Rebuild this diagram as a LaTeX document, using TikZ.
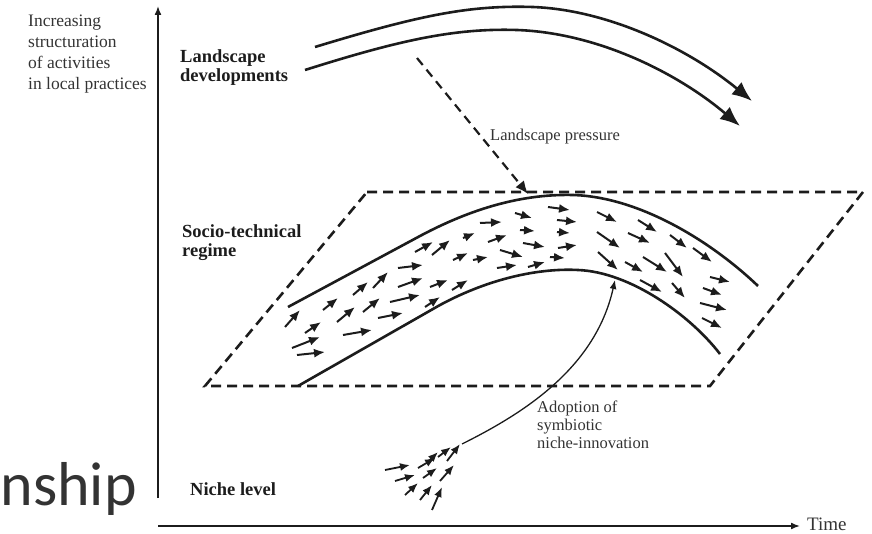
\documentclass[tikz,border=0pt]{standalone}
\usepackage{fontspec}
\setmainfont{Liberation Serif}
\newfontfamily\slidefont{Carlito}
\usetikzlibrary{arrows.meta}
\definecolor{ink}{HTML}{1C1C1C}
\definecolor{txt}{HTML}{333333}
\begin{document}
\begin{tikzpicture}[x=1pt,y=-1pt,
  axis/.style={draw=ink,line width=1.6pt,-{Latex[length=9pt,width=7pt]}},
  band/.style={draw=ink,line width=2.6pt},
  bigarrow/.style={band,-{Latex[length=20pt,width=16pt]}},
  dashbox/.style={draw=ink,line width=2.6pt,dash pattern=on 10pt off 6pt},
  flow/.style={draw=ink,line width=2pt,-{Latex[length=11pt,width=9pt]}},
  thinarrow/.style={draw=ink,line width=1.3pt,-{Latex[length=9pt,width=7pt]}},
  sidelbl/.style={text=txt,font=\fontsize{17.5}{21}\selectfont,align=left,inner sep=0pt,anchor=base west},
  smalllbl/.style={text=txt,font=\fontsize{16.5}{18}\selectfont,align=left,inner sep=0pt,anchor=base west},
  levellbl/.style={text=ink,font=\bfseries\fontsize{18.5}{19.5}\selectfont,align=left,inner sep=0pt,anchor=base west}]
\useasboundingbox (0,0) rectangle (872,534);

% axes
\coordinate (yorig) at (158,498);
\coordinate (ytop) at (158,6);
\coordinate (xorig) at (158,526);
\coordinate (xend) at (800,526);
\draw[axis] (yorig) -- (ytop);
\draw[axis] (xorig) -- (xend);

% labels (base = baseline of last line)
\node[sidelbl] (ylab) at (28,90) {Increasing\\structuration\\of activities\\in local practices};
\node[levellbl] (land) at (180,82) {Landscape\\developments};
\node[levellbl] (regime) at (182,257) {Socio-technical\\regime};
\node[levellbl] (niche) at (190,495) {Niche level};
\node[smalllbl] (press) at (490,141) {Landscape pressure};
\node[smalllbl] (adopt) at (537,448) {Adoption of\\symbiotic\\niche-innovation};
\node[text=txt,font=\fontsize{19}{21}\selectfont,inner sep=0pt,anchor=base west] (time) at (807,530) {Time};
\node[text=txt,font=\slidefont\fontsize{62}{64}\selectfont,inner sep=0pt,anchor=base east] (frag) at (137,505) {nship};

% landscape arrows
\draw[bigarrow] (315,47) .. controls (420,15) and (470,5) .. (533,7)
  .. controls (610,10) and (690,50) .. (752,101);
\draw[bigarrow] (305,70) .. controls (400,40) and (455,28) .. (517,30)
  .. controls (600,33) and (680,75) .. (740,126);

% landscape pressure
\coordinate (pstart) at (417,58);
\coordinate (pend) at (528,194);
\draw[draw=ink,line width=2.2pt,dash pattern=on 9pt off 6pt,-{Latex[length=13pt,width=11pt]}] (pstart) -- (pend);

% regime plane
\draw[dashbox] (367,192) -- (863,192) -- (710,386) -- (205,386) -- cycle;

% regime band
\draw[band] (288,307) -- (420,236) .. controls (480,204) and (530,194) .. (573,195)
  .. controls (640,197) and (712,242) .. (758,286);
\draw[band] (298,386) -- (440,305) .. controls (490,278) and (540,268) .. (578,270)
  .. controls (630,272) and (690,315) .. (720,354);

% flow arrows in regime
\foreach \ax/\ay/\bx/\by in {
285/327/300/310, 292/348/320/337, 297/355/325/352, 305/333/321/322,
323/310/338/298, 337/322/355/307, 343/335/372/330, 353/295/368/282,
363/312/380/298, 373/288/388/272, 378/318/403/313, 390/302/420/295,
398/268/423/265, 398/287/423/278, 415/252/433/242, 425/307/440/297,
430/287/448/280, 432/255/450/240, 452/290/468/280, 453/260/468/253,
463/238/475/233, 473/260/488/257, 480/223/502/222, 488/242/507/235,
497/268/517/265, 500/250/523/257, 515/213/532/218, 520/230/535/231,
523/243/545/247, 528/267/545/262, 548/207/570/210, 557/220/577/222,
557/232/570/233, 558/248/577/245, 550/257/565/258,
597/212/617/222, 597/232/620/248, 598/252/618/270, 638/220/657/232,
628/233/650/243, 625/262/643/272, 643/257/667/272, 665/253/683/277,
640/280/662/292, 672/283/685/298, 670/235/687/248, 693/248/712/262,
710/277/730/282, 703/288/722/295, 700/303/727/310, 702/318/722/328}
  \draw[flow] (\ax,\ay) -- (\bx,\by);

% niche arrows
\foreach \ax/\ay/\bx/\by in {
385/470/410/465, 395/481/415/475, 405/495/418/483, 420/500/432/485,
432/510/442/487, 418/468/435/458, 423/478/437/468, 428/462/438/452,
438/457/451/447, 440/481/454/465, 447/461/460/444}
  \draw[flow,line width=1.8pt,-{Latex[length=10pt,width=8pt]}] (\ax,\ay) -- (\bx,\by);

% adoption
\coordinate (nstart) at (462,444);
\coordinate (nend) at (615,280);
\draw[thinarrow] (nstart) .. controls (520,415) and (595,370) .. (nend);
\end{tikzpicture}
\end{document}
